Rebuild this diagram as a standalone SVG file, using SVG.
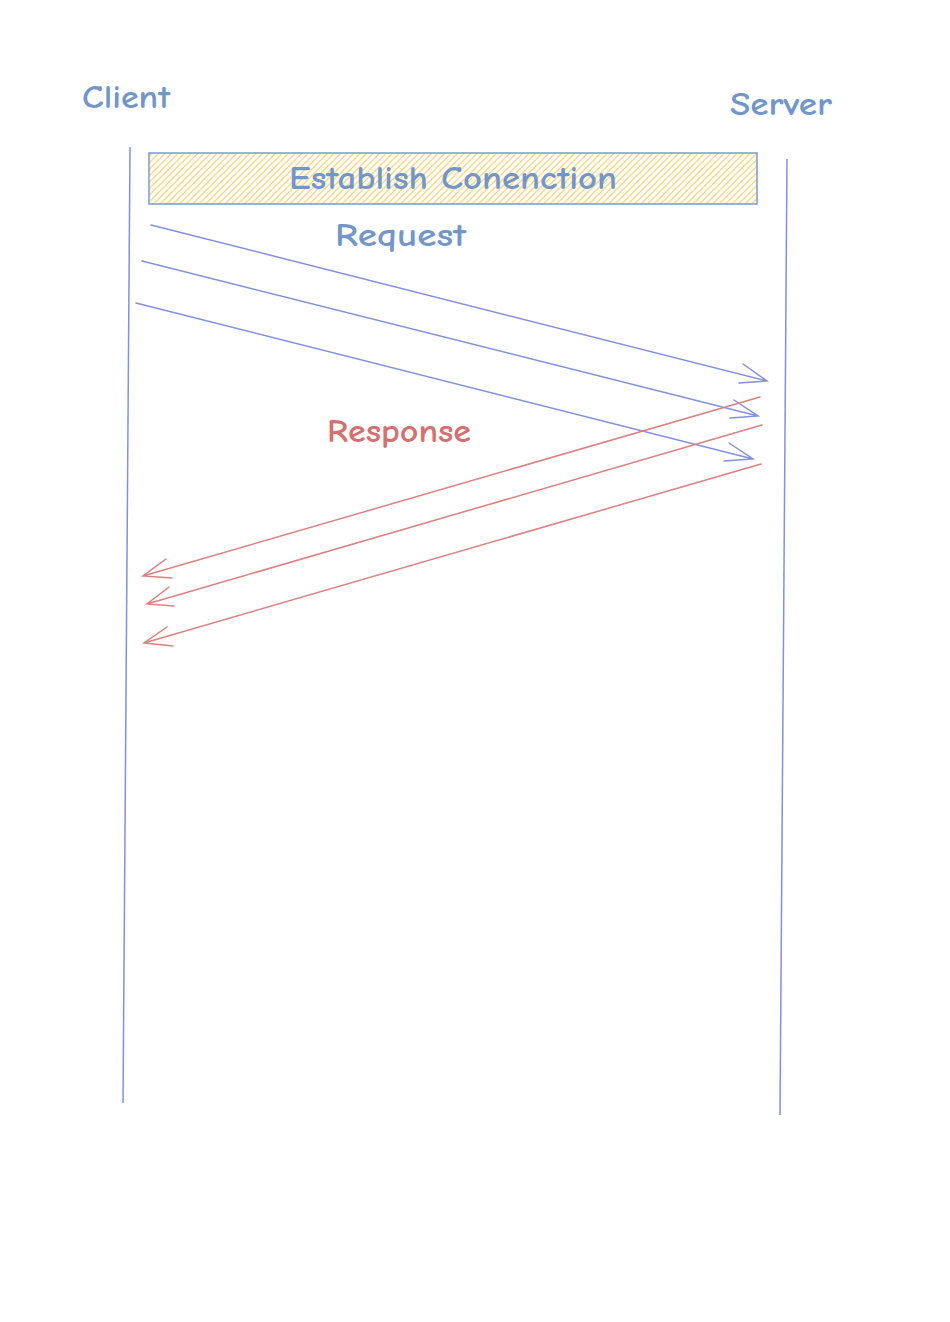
<svg xmlns="http://www.w3.org/2000/svg" width="950" height="1322" viewBox="0 0 950 1322">
<defs>
<style>
.lbl{font-family:"Comic Neue","Liberation Sans",Arial,sans-serif;font-size:32px;font-weight:700;}
.blue{fill:#7396c8;}
.red{fill:#d4706f;}
.req{stroke:#8390e0;stroke-width:1.5;fill:none;stroke-linecap:round;}
.res{stroke:#dc8080;stroke-width:1.5;fill:none;stroke-linecap:round;}
.life{stroke:#8390e0;stroke-width:1.5;fill:none;}
</style>
<pattern id="hach" patternUnits="userSpaceOnUse" width="6.5" height="6.5">
<path d="M-1,1 L1,-1 M0,6.5 L6.5,0 M5.5,7.5 L7.5,5.5" stroke="#f7c855" stroke-width="1.1"/>
</pattern>
</defs>
<rect width="950" height="1322" fill="#ffffff"/>
<g id="client">
<text class="lbl blue" x="82" y="108" textLength="88" lengthAdjust="spacingAndGlyphs">Client</text>
<line class="life" x1="130" y1="147" x2="123" y2="1103"/>
</g>
<g id="server">
<text class="lbl blue" x="730" y="115" textLength="102" lengthAdjust="spacingAndGlyphs">Server</text>
<line class="life" x1="787" y1="159" x2="780" y2="1115"/>
</g>
<g id="establish">
<rect x="149" y="153" width="608" height="51" fill="url(#hach)" stroke="#7a9acb" stroke-width="1.5"/>
<text class="lbl blue" x="289" y="189" textLength="328" lengthAdjust="spacingAndGlyphs">Establish Conenction</text>
</g>
<g id="request-label">
<text class="lbl blue" x="335" y="246" textLength="131" lengthAdjust="spacingAndGlyphs">Request</text>
</g>
<g id="response-label">
<text class="lbl red" x="327" y="442" textLength="144" lengthAdjust="spacingAndGlyphs">Response</text>
</g>
<g id="connectors">
<path class="req" d="M151,225 L767,381 M743,364 L767,381 L739,383"/>
<path class="req" d="M142,261 L758,416 M734,400 L758,416 L730,418"/>
<path class="req" d="M136,303 L753,459 M729,443 L753,459 L724,461"/>
<path class="res" d="M760,397 L143,576 M166,559 L143,576 L172,578"/>
<path class="res" d="M762,425 L147,604 M169,587 L147,604 L174,606"/>
<path class="res" d="M761,464 L144,643 M167,627 L144,643 L173,646"/>
</g>
</svg>
